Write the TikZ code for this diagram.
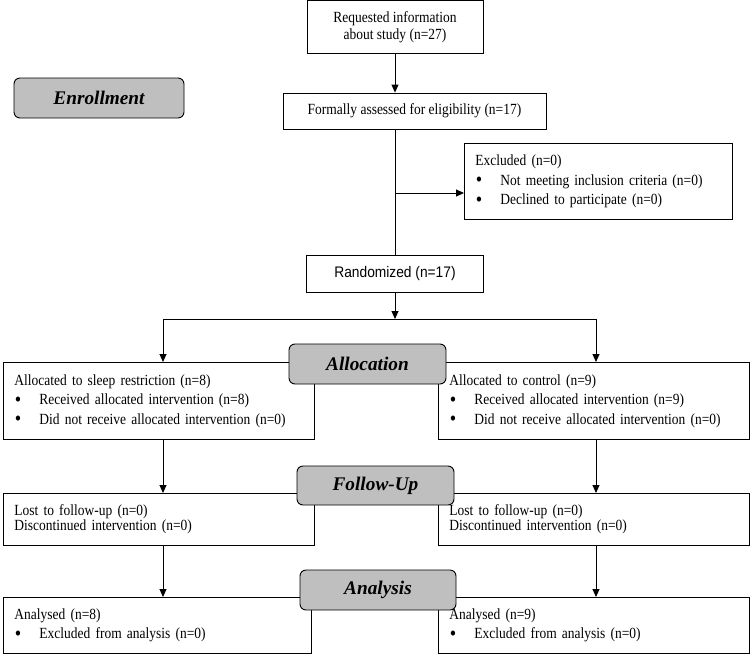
\documentclass[tikz,border=0pt]{standalone}
\usepackage{fontspec}
\setmainfont{Liberation Serif}[FakeStretch=0.87]
\setsansfont{Liberation Sans}[FakeStretch=0.9]
\newfontfamily\stagefont{Liberation Serif}
\usepackage{tikz}
\usetikzlibrary{arrows.meta,positioning,calc}

\newcommand{\bitem}[1]{\makebox[25pt][l]{\hspace{0.5pt}\raisebox{-1.6pt}{\fontsize{21}{21}\selectfont\textbullet}}#1}

\begin{document}
\begin{tikzpicture}[x=1pt, y=-1pt,
    box/.style={draw, line width=0.9pt, inner sep=0pt, align=center, font=\fontsize{15.5}{17}\selectfont},
    listbox/.style={draw, line width=0.9pt, anchor=north west, inner xsep=11pt, inner ysep=0pt, align=left, font=\fontsize{15.5}{19.5}\selectfont},
    stage/.style={draw, line width=0.9pt, rounded corners=6pt, fill=gray!50, inner sep=0pt, font=\stagefont\fontsize{19.3}{19}\selectfont\bfseries\itshape},
    arrow/.style={-{Triangle[length=8pt,width=7pt]}, line width=0.9pt}
]
    \useasboundingbox (0,0) rectangle (750,654);

    % Enrollment
    \node[box, minimum width=176pt, minimum height=53pt] (req) at (395,27) {Requested information\\about study (n=27)};
    \node[box, minimum width=263pt, minimum height=36pt] (elig) at (414.5,111) {Formally assessed for eligibility (n=17)};
    \node[listbox, text width=246pt, minimum height=76pt] (excl) at (464,143) {Excluded (n=0)\\\bitem{Not meeting inclusion criteria (n=0)}\\\bitem{Declined to participate (n=0)}};
    \node[box, font=\sffamily\fontsize{15.3}{16}\selectfont, minimum width=177pt, minimum height=37pt] (rand) at (395,273.5) {Randomized (n=17)};

    \coordinate (branch) at (395,193);
    \coordinate (split) at (395,319);
    \coordinate (colL) at (163,319);
    \coordinate (colR) at (596,319);

    % Allocation
    \node[listbox, text width=289pt, minimum height=77pt] (allocL) at (3,362) {Allocated to sleep restriction (n=8)\\\bitem{Received allocated intervention (n=8)}\\\bitem{Did not receive allocated intervention (n=0)}};
    \node[listbox, text width=289pt, minimum height=77pt] (allocR) at (438,362) {Allocated to control (n=9)\\\bitem{Received allocated intervention (n=9)}\\\bitem{Did not receive allocated intervention (n=0)}};

    % Follow-up
    \node[listbox, font=\fontsize{15.5}{15}\selectfont, text width=289pt, minimum height=52pt] (fupL) at (3,493) {Lost to follow-up (n=0)\\Discontinued intervention (n=0)};
    \node[listbox, font=\fontsize{15.5}{15}\selectfont, text width=289pt, minimum height=52pt] (fupR) at (438,493) {Lost to follow-up (n=0)\\Discontinued intervention (n=0)};

    % Analysis
    \node[listbox, text width=286pt, minimum height=56pt] (anaL) at (3,597) {Analysed (n=8)\\\bitem{Excluded from analysis (n=0)}};
    \node[listbox, text width=289pt, minimum height=56pt] (anaR) at (438,597) {Analysed (n=9)\\\bitem{Excluded from analysis (n=0)}};

    % Connections
    \draw[arrow] (req.south) -- (req.south |- elig.north);
    \draw[line width=0.9pt] (req.south |- elig.south) -- (rand.north);
    \draw[arrow] (branch) -- (branch -| excl.west);
    \draw[arrow] (rand.south) -- (split);
    \draw[line width=0.9pt] (colL) -- (colR);
    \draw[arrow] (colL) -- (colL |- allocL.north);
    \draw[arrow] (colR) -- (colR |- allocR.north);
    \draw[arrow] (colL |- allocL.south) -- (colL |- fupL.north);
    \draw[arrow] (colR |- allocR.south) -- (colR |- fupR.north);
    \draw[arrow] (colL |- fupL.south) -- (colL |- anaL.north);
    \draw[arrow] (colR |- fupR.south) -- (colR |- anaR.north);

    % Stage labels
    \node[stage, minimum width=170pt, minimum height=40pt] (enroll) at (99,98) {Enrollment};
    \node[stage, minimum width=157pt, minimum height=40pt] (alloc) at (367.5,364) {Allocation};
    \node[stage, minimum width=157pt, minimum height=39pt] (fup) at (375.5,485.5) {Follow-Up};
    \node[stage, minimum width=156pt, minimum height=40pt] (ana) at (378,590) {Analysis};
\end{tikzpicture}
\end{document}
